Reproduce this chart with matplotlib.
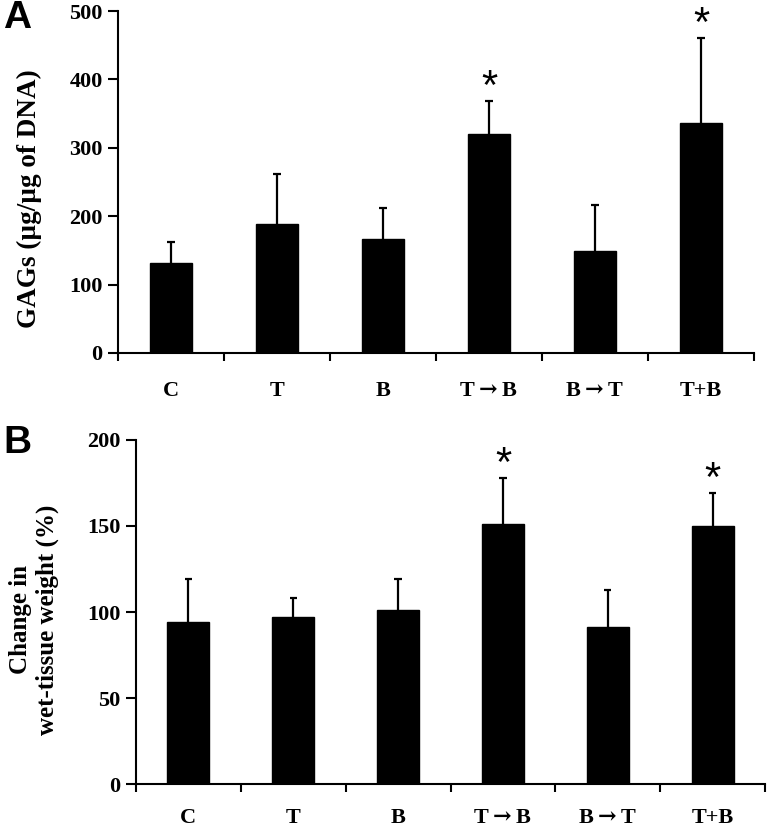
import numpy as np
import matplotlib
matplotlib.use('Agg')
import matplotlib.pyplot as plt

# ── DATA ────────────────────────────────────────────────────────────────────
groups = ['C', 'T', 'B', 'T${\\rightarrow}$B', 'B${\\rightarrow}$T', 'T+B']

gags_mean = [132, 188, 166, 320, 149, 337]
gags_top  = [162, 261, 212, 369, 217, 460]   # top of error bar
gags_star = [False, False, False, True, False, True]

wet_mean = [94, 97, 101, 151, 91, 150]
wet_top  = [119, 108, 119, 178, 113, 169]
wet_star = [False, False, False, True, False, True]

SERIF = ['Liberation Serif', 'DejaVu Serif']
SANS = ['Liberation Sans', 'DejaVu Sans']

plt.rcParams['font.family'] = SERIF
plt.rcParams['font.weight'] = 'bold'
plt.rcParams['mathtext.fontset'] = 'dejavuserif'

fig = plt.figure(figsize=(7.7, 8.3), dpi=100)


def draw_panel(rect, means, tops, stars, ymax, ystep, label_pad):
    ax = fig.add_axes(rect)
    x = np.arange(len(groups)) + 0.5
    means = np.array(means)
    tops = np.array(tops)
    ax.bar(x, means, width=0.4, color='black', edgecolor='black', zorder=3)
    # upper error bars only: stem + cap
    ax.vlines(x, means, tops, color='black', linewidth=1.6, zorder=2)
    ax.hlines(tops, x - 0.035, x + 0.035, color='black', linewidth=1.6, zorder=2)
    for xi, t, s in zip(x, tops, stars):
        if s:
            ax.annotate('*', (xi, t), xytext=(0, -5), textcoords='offset points',
                        ha='center', va='bottom', fontsize=30, family=SANS,
                        fontweight='normal')

    ax.set_xlim(0, len(groups))
    ax.set_ylim(0, ymax)
    ax.set_yticks(np.arange(0, ymax + 1, ystep))
    ax.set_xticks(np.arange(0, len(groups) + 1))
    ax.set_xticklabels([])
    ax.set_xticks(x, minor=True)
    ax.set_xticklabels(groups, minor=True, fontsize=16, fontweight='bold')
    ax.tick_params(axis='x', which='major', direction='out', length=6, width=1.5)
    ax.tick_params(axis='x', which='minor', length=0, pad=label_pad)
    ax.tick_params(axis='y', direction='out', length=7, width=1.5, pad=4, labelsize=16)
    for lab in ax.get_yticklabels():
        lab.set_fontweight('bold')

    for side in ['top', 'right']:
        ax.spines[side].set_visible(False)
    for side in ['left', 'bottom']:
        ax.spines[side].set_linewidth(1.5)
    return ax


# ── PANEL A ─────────────────────────────────────────────────────────────────
axA = draw_panel([0.1532, 0.5747, 0.826, 0.412], gags_mean, gags_top, gags_star,
                 500, 100, 20)
fig.text(29 / 770, 1 - 199 / 830, 'GAGs (µg/µg of DNA)', rotation=90,
         ha='center', va='center', fontsize=19.5, fontweight='bold')
fig.text(3 / 770, 1 - 18 / 830, 'A', ha='left', va='center', fontsize=28,
         fontweight='bold', family=SANS)

# ── PANEL B ─────────────────────────────────────────────────────────────────
axB = draw_panel([0.1766, 0.0554, 0.817, 0.4145], wet_mean, wet_top, wet_star,
                 200, 50, 17)
fig.text(34 / 770, 1 - 620 / 830, 'Change in\nwet-tissue weight (%)', rotation=90,
         ha='center', va='center', fontsize=18, fontweight='bold',
         multialignment='center', linespacing=1.15)
fig.text(3 / 770, 1 - 443 / 830, 'B', ha='left', va='center', fontsize=28,
         fontweight='bold', family=SANS)

fig.savefig('out.png', dpi=100)
